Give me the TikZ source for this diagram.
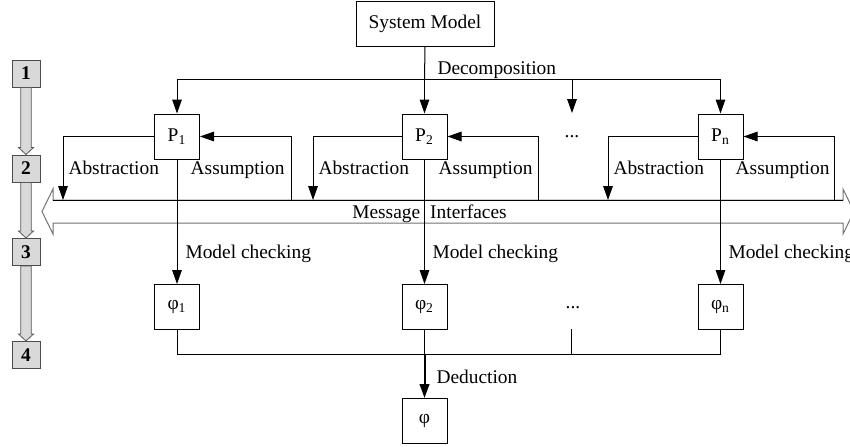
\documentclass[tikz,border=0pt]{standalone}
\usepackage{fontspec}
\setmainfont{Liberation Serif}
\usetikzlibrary{arrows.meta,calc}

\tikzset{
  blk/.style={draw, minimum width=22.5pt, minimum height=22.5pt, inner sep=1pt},
  stage/.style={draw=black!70, fill=black!15, minimum width=14pt, minimum height=13.5pt, inner sep=0pt, font=\fontsize{9.7}{11}\selectfont\bfseries},
  arr/.style={-{Triangle[length=7pt,width=4.8pt]}},
  lbl/.style={inner sep=0pt},
  stagearrow/.style={draw=black!65, fill=black!15, line width=0.4pt},
  band/.style={draw=black!55, fill=white}
}

\begin{document}
\begin{tikzpicture}[x=0.5pt, y=-0.5pt, line width=0.5pt, font=\fontsize{9.7}{11}\selectfont]
    \clip (0,0) rectangle (850,446);

    % steps on the left
    \node[stage] (s1) at (26,73.5) {1};
    \node[stage] (s2) at (26,168.5) {2};
    \node[stage] (s3) at (26,252) {3};
    \node[stage] (s4) at (26,355) {4};
    \foreach \a/\b in {s1/s2, s2/s3, s3/s4}
        \draw[stagearrow] ($(\a.south)+(-5.3,0)$) -- ($(\b.north)+(-5.3,-7)$) -- ($(\b.north)+(-7.5,-7)$)
            -- (\b.north) -- ($(\b.north)+(7.5,-7)$) -- ($(\b.north)+(5.3,-7)$) -- ($(\a.south)+(5.3,0)$) -- cycle;

    % message interfaces
    \draw[band] (53,200) -- (53,189) -- (42,211.5) -- (53,234) -- (53,223) -- (843,223)
        -- (843,234) -- (854,211.5) -- (843,189) -- (843,200) -- cycle;
    \draw (53,200) -- (843,200);
    \node[lbl, anchor=base] (msg) at (429.5,218) {Message\hspace{5pt}Interfaces};

    % boxes
    \node[blk, minimum width=69pt] (sys) at (425,23.5) {System Model};
    \node[blk] (p1) at (177,136.5) {P\textsubscript{1}};
    \node[blk] (p2) at (424.5,136.5) {P\textsubscript{2}};
    \node[lbl, anchor=base] (pd) at (572,137) {...};
    \node[blk] (pn) at (720.5,136.5) {P\textsubscript{n}};
    \node[blk] (f1) at (177,307) {φ\textsubscript{1}};
    \node[blk] (f2) at (424.5,307) {φ\textsubscript{2}};
    \node[lbl, anchor=base] (fd) at (573,308) {...};
    \node[blk] (fn) at (720.5,307) {φ\textsubscript{n}};
    \node[blk] (f) at (424.5,421) {φ};

    % decomposition
    \coordinate (dec) at (424.5,79);
    \coordinate (pdtip) at (572,113);
    \draw (sys.south) -- (dec);
    \draw[arr] (dec) -| (p1);
    \draw[arr] (dec) -- (p2);
    \draw[arr] (dec) -| (pdtip);
    \draw[arr] (dec) -| (pn);
    \node[lbl, anchor=base west] at (437,74) {Decomposition};

    % abstraction / assumption
    \coordinate (ab1) at (63,200);
    \coordinate (as1) at (291,200);
    \coordinate (ab2) at (313,200);
    \coordinate (as2) at (538,200);
    \coordinate (abn) at (608,200);
    \coordinate (asn) at (834,200);
    \draw[arr] (p1.west) -| (ab1);
    \draw[arr] (as1) |- (p1.east);
    \draw[arr] (p2.west) -| (ab2);
    \draw[arr] (as2) |- (p2.east);
    \draw[arr] (pn.west) -| (abn);
    \draw[arr] (asn) |- (pn.east);
    \node[lbl, anchor=base west] at (68,174) {Abstraction};
    \node[lbl, anchor=base east] at (285,174) {Assumption};
    \node[lbl, anchor=base west] at (318,174) {Abstraction};
    \node[lbl, anchor=base east] at (533,174) {Assumption};
    \node[lbl, anchor=base west] at (613,174) {Abstraction};
    \node[lbl, anchor=base east] at (830,174) {Assumption};

    % model checking
    \draw[arr] (p1) -- (f1);
    \draw[arr] (p2) -- (f2);
    \draw[arr] (pn) -- (fn);
    \node[lbl, anchor=base west] at (185,258) {Model checking};
    \node[lbl, anchor=base west] at (432,258) {Model checking};
    \node[lbl, anchor=base west] at (728,258) {Model checking};

    % deduction
    \coordinate (ded) at (424.5,354);
    \coordinate (fdbot) at (571,329);
    \draw (f1.south) |- (ded) -| (fn.south);
    \draw (f2.south) -- (ded);
    \draw (fdbot) -- (fdbot |- ded);
    \draw[arr, line width=1pt] (ded) -- (f);
    \node[lbl, anchor=base west] at (436,383) {Deduction};
\end{tikzpicture}
\end{document}
